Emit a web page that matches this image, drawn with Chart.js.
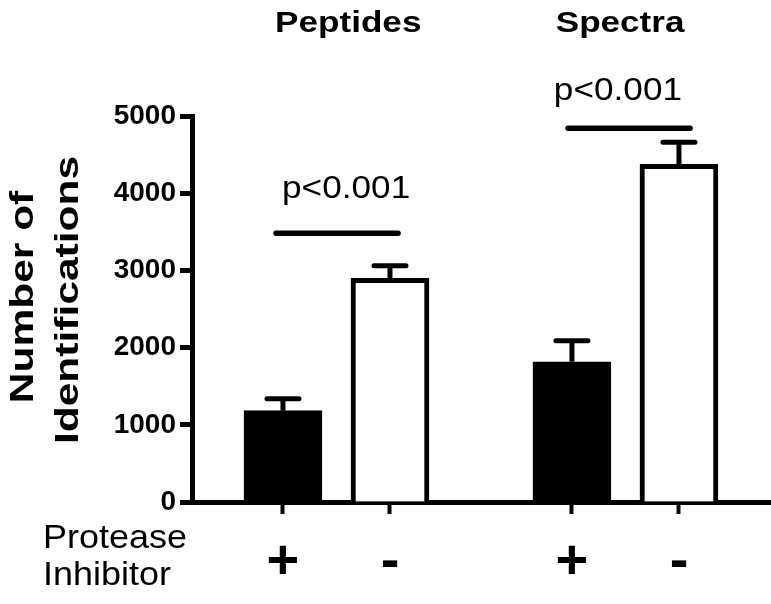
<!DOCTYPE html>
<html>
<head>
<meta charset="utf-8">
<script src="https://cdn.jsdelivr.net/npm/chart.js@4.4.1/dist/chart.umd.min.js"></script>
<style>
    html, body { margin: 0; padding: 0; background: #fff; }
    #wrap { width: 771px; height: 604px; }
</style>
</head>
<body>
<div id="wrap"><canvas id="chart"></canvas></div>
<script>
// ── Data ──────────────────────────────────────────────────────────────────────
const groups = ["Peptides", "Spectra"];
const inhibitor = ["+", "-", "+", "-"];
const barX = [1, 2, 3.7, 4.7];               // bar centres on the linear x axis
const means = [1183, 2898, 1817, 4374];
const sem = [155, 163, 273, 285];
const pValues = ["p<0.001", "p<0.001"];
const sigSpans = [[0.935, 2.075], [3.664, 4.804]];
const sigLevel = [3480, 4840];
const yTicks = [0, 1000, 2000, 3000, 4000, 5000];

// ── Layout / style constants ─────────────────────────────────────────────────
const FONT = '"Liberation Sans", Arial, sans-serif';
const titleX = [1.61, 4.15];
const titleY = 6088;
const pTextX = [1.59, 4.13];
const pTextY = [3938, 5207];

Chart.defaults.font.family = FONT;
Chart.defaults.color = "#000";

function stretchText(ctx, text, x, y, sx, rot) {
    ctx.save();
    ctx.translate(x, y);
    if (rot) ctx.rotate(rot);
    ctx.scale(sx, 1);
    ctx.fillText(text, 0, 0);
    ctx.restore();
}

// ── Error bars, significance lines and free text ─────────────────────────────
const annotate = {
    id: "annotate",
    afterDatasetsDraw(chart) {
        const { ctx, scales: { x, y } } = chart;
        ctx.save();
        ctx.strokeStyle = "#000";
        ctx.fillStyle = "#000";

        // error bars (upper only)
        ctx.lineWidth = 5;
        barX.forEach((bx, i) => {
            const px = x.getPixelForValue(bx);
            const y0 = y.getPixelForValue(means[i]);
            const y1 = y.getPixelForValue(means[i] + sem[i]);
            ctx.lineCap = "butt";
            ctx.beginPath();
            ctx.moveTo(px, y0);
            ctx.lineTo(px, y1);
            ctx.stroke();
            ctx.lineCap = "round";
            ctx.beginPath();
            ctx.moveTo(px - 16, y1);
            ctx.lineTo(px + 16, y1);
            ctx.stroke();
        });

        // significance lines
        ctx.lineWidth = 5.5;
        ctx.lineCap = "round";
        sigSpans.forEach((s, i) => {
            const yy = y.getPixelForValue(sigLevel[i]);
            ctx.beginPath();
            ctx.moveTo(x.getPixelForValue(s[0]), yy);
            ctx.lineTo(x.getPixelForValue(s[1]), yy);
            ctx.stroke();
        });

        // p-values
        ctx.textAlign = "center";
        ctx.textBaseline = "alphabetic";
        ctx.font = `32px ${FONT}`;
        pValues.forEach((t, i) => {
            stretchText(ctx, t, x.getPixelForValue(pTextX[i]), y.getPixelForValue(pTextY[i]), 1.1);
        });

        // group titles
        ctx.font = `bold 30px ${FONT}`;
        groups.forEach((g, i) => {
            stretchText(ctx, g, x.getPixelForValue(titleX[i]), y.getPixelForValue(titleY), 1.17);
        });

        // y-axis title (two rotated lines)
        ctx.font = `bold 34px ${FONT}`;
        stretchText(ctx, "Number of", 33, 297, 1.25, -Math.PI / 2);
        stretchText(ctx, "Identifications", 78, 300, 1.25, -Math.PI / 2);

        // row label for the +/- ticks
        ctx.textAlign = "left";
        ctx.font = `33px ${FONT}`;
        stretchText(ctx, "Protease", 43, 548, 1.09);
        stretchText(ctx, "Inhibitor", 43, 585, 1.09);

        ctx.restore();
    }
};

// ── Chart ────────────────────────────────────────────────────────────────────
new Chart(document.getElementById("chart"), {
    type: "bar",
    data: {
        datasets: [{
            data: barX.map((bx, i) => ({ x: bx, y: means[i] })),
            backgroundColor: inhibitor.map(s => s === "+" ? "#000" : "#fff"),
            borderColor: "#000",
            borderWidth: 5,
            borderSkipped: "bottom",
            barThickness: 78,
        }]
    },
    options: {
        responsive: true,
        maintainAspectRatio: false,
        animation: false,
        layout: { padding: { top: 116, left: 0, right: 0, bottom: 0 } },
        plugins: {
            legend: { display: false },
            tooltip: { enabled: false },
        },
        scales: {
            x: {
                type: "linear",
                min: 0.15,
                max: 5.56,
                offset: false,
                afterBuildTicks: scale => { scale.ticks = barX.map(v => ({ value: v })); },
                afterFit: scale => { scale.height = 102; },
                ticks: {
                    autoSkip: false,
                    maxRotation: 0,
                    padding: 15,
                    font: { size: 56, weight: "bold" },
                    callback: (v, i) => inhibitor[i],
                },
                grid: {
                    offset: false,
                    drawOnChartArea: false,
                    tickLength: 12,
                    tickWidth: 4,
                    tickColor: "#000",
                },
                border: { color: "#000", width: 5 },
            },
            y: {
                min: 0,
                max: 5000,
                afterBuildTicks: scale => { scale.ticks = yTicks.map(v => ({ value: v })); },
                afterFit: scale => { scale.width = 192; },
                ticks: {
                    padding: 4,
                    font: { size: 28, weight: "bold" },
                    callback: v => String(v),
                },
                grid: {
                    drawOnChartArea: false,
                    tickLength: 12,
                    tickWidth: 5,
                    tickColor: "#000",
                },
                border: { color: "#000", width: 5 },
            }
        }
    },
    plugins: [annotate],
});
</script>
</body>
</html>
